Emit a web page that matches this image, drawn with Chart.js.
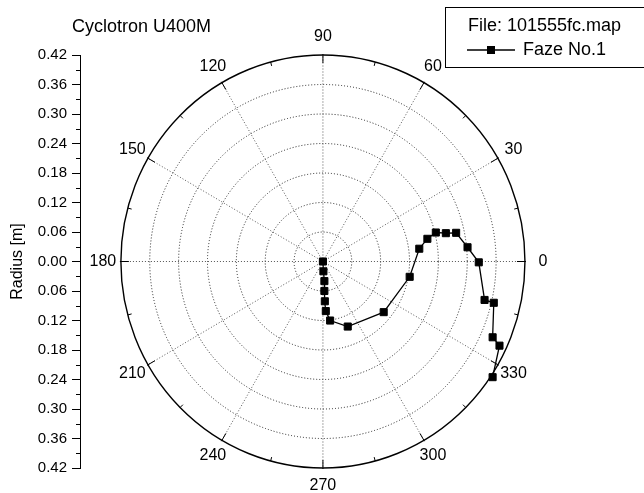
<!DOCTYPE html>
<html>
<head>
<meta charset="utf-8">
<title>Cyclotron U400M</title>
<script src="https://cdn.jsdelivr.net/npm/chart.js@4.4.1/dist/chart.umd.min.js"></script>
<style>
  html, body { margin: 0; padding: 0; background: #fff; }
</style>
</head>
<body>
<canvas id="chart" width="644" height="493"></canvas>
<script>
"use strict";

// Beam path, in the order it is traced: radius [m] and polar angle [deg].
const RADIUS = [0.000, 0.020, 0.040, 0.060, 0.081, 0.101, 0.121, 0.142, 0.163, 0.183, 0.202,
                0.222, 0.242, 0.262, 0.283, 0.302, 0.324, 0.345, 0.365, 0.385, 0.405, 0.424];
const ANGLE = [270.0, 272.9, 274.4, 272.9, 272.8, 273.4, 277.1, 291.3, 320.8, 350.2, 7.4,
               12.0, 14.1, 12.7, 11.9, 5.5, 359.7, 346.9, 346.7, 336.4, 335.0, 326.3];

// Polar grid: rings (the last one is the frame) and angle labels.
const RING_VALUES = [0.06, 0.12, 0.18, 0.24, 0.30, 0.36, 0.42];
const ANGLE_LABELS = [0, 30, 60, 90, 120, 150, 180, 210, 240, 270, 300, 330];

// Left radius axis, read as distance from the centre in both directions.
const RADIUS_TICKS = [-0.42, -0.36, -0.30, -0.24, -0.18, -0.12, -0.06, 0,
                      0.06, 0.12, 0.18, 0.24, 0.30, 0.36, 0.42];

const SERIES_LABEL = "Faze No.1";
const FILE_LABEL = "File: 101555fc.map";
const TITLE = "Cyclotron U400M";

const FONT = "'Liberation Sans', Arial, Helvetica, sans-serif";
const DEG = Math.PI / 180;

// polar -> cartesian, the scatter scales do the rest
const points = RADIUS.map((r, i) => ({
  x: r * Math.cos(ANGLE[i] * DEG),
  y: r * Math.sin(ANGLE[i] * DEG),
}));

const polarGrid = {
  id: "polarGrid",
  beforeDatasetsDraw(chart) {
    const { ctx, scales: { x, y } } = chart;
    const cx = x.getPixelForValue(0);
    const cy = y.getPixelForValue(0);
    const rx = (v) => x.getPixelForValue(v) - cx;
    const ry = (v) => cy - y.getPixelForValue(v);
    const outer = RING_VALUES[RING_VALUES.length - 1];
    const ox = rx(outer), oy = ry(outer);

    ctx.save();
    ctx.strokeStyle = "#222";
    ctx.lineWidth = 1;
    ctx.setLineDash([1, 2]);
    for (const v of RING_VALUES.slice(0, -1)) {
      ctx.beginPath();
      ctx.ellipse(cx, cy, rx(v), ry(v), 0, 0, 2 * Math.PI);
      ctx.stroke();
    }
    ctx.strokeStyle = "#555";
    for (const a of ANGLE_LABELS) {
      ctx.beginPath();
      ctx.moveTo(cx, cy);
      ctx.lineTo(cx + ox * Math.cos(a * DEG), cy - oy * Math.sin(a * DEG));
      ctx.stroke();
    }

    // solid frame ring with inward ticks (major every 30, minor between)
    ctx.setLineDash([]);
    ctx.strokeStyle = "#000";
    ctx.lineWidth = 1.4;
    ctx.beginPath();
    ctx.ellipse(cx, cy, ox, oy, 0, 0, 2 * Math.PI);
    ctx.stroke();
    ctx.lineWidth = 1;
    for (const a of ANGLE_LABELS) {
      for (const [da, len] of [[0, 8], [15, 4]]) {
        const t = (a + da) * DEG;
        const c = Math.cos(t), s = Math.sin(t);
        const out = da ? 0 : 1;
        ctx.beginPath();
        ctx.moveTo(cx + (ox + out) * c, cy - (oy + out) * s);
        ctx.lineTo(cx + (ox - len) * c, cy - (oy - len) * s);
        ctx.stroke();
      }
    }

    ctx.fillStyle = "#000";
    ctx.font = `16px ${FONT}`;
    ctx.textAlign = "center";
    ctx.textBaseline = "middle";
    for (const a of ANGLE_LABELS) {
      const t = a * DEG;
      ctx.fillText(String(a), cx + (ox + 18) * Math.cos(t), cy - (oy + 18) * Math.sin(t));
    }
    ctx.restore();
  },
  afterDraw(chart) {
    const { ctx, scales: { y } } = chart;
    const left = y.right;
    ctx.save();
    // minor ticks on the radius axis, halfway between labelled ones
    ctx.strokeStyle = "#000";
    ctx.lineWidth = 1;
    for (let i = 0; i < RADIUS_TICKS.length - 1; i++) {
      const py = Math.round(y.getPixelForValue((RADIUS_TICKS[i] + RADIUS_TICKS[i + 1]) / 2)) + 0.5;
      ctx.beginPath();
      ctx.moveTo(left - 4, py);
      ctx.lineTo(left, py);
      ctx.stroke();
    }

    ctx.fillStyle = "#000";
    ctx.textBaseline = "middle";
    ctx.textAlign = "left";
    ctx.font = `18px ${FONT}`;
    ctx.fillText(TITLE, 72, 27);

    // legend box, open to the right like the original
    const ds = chart.data.datasets[0];
    ctx.lineWidth = 1;
    ctx.strokeRect(445.5, 7.5, 220, 60);
    ctx.fillText(FILE_LABEL, 468, 26);
    ctx.strokeStyle = ds.borderColor;
    ctx.lineWidth = ds.borderWidth;
    ctx.beginPath();
    ctx.moveTo(467, 50);
    ctx.lineTo(515, 50);
    ctx.stroke();
    ctx.fillStyle = ds.pointBackgroundColor;
    ctx.fillRect(487, 46, 8, 8);
    ctx.fillStyle = "#000";
    ctx.fillText(ds.label, 523, 50);
    ctx.restore();
  },
};

new Chart(document.getElementById("chart"), {
  type: "scatter",
  data: {
    datasets: [{
      label: SERIES_LABEL,
      data: points,
      showLine: true,
      borderColor: "#000",
      borderWidth: 1.3,
      tension: 0,
      pointStyle: "rect",
      pointRadius: 5,
      pointHoverRadius: 5,
      pointBackgroundColor: "#000",
      pointBorderColor: "#000",
      pointBorderWidth: 1,
    }],
  },
  options: {
    responsive: false,
    animation: false,
    events: [],
    layout: { padding: { top: 55, bottom: 25, left: 0, right: 44 } },
    plugins: {
      legend: { display: false },
      title: { display: false },
      tooltip: { enabled: false },
    },
    scales: {
      x: {
        type: "linear",
        display: false,
        min: -0.505,
        max: 0.576,
      },
      y: {
        type: "linear",
        min: -0.42,
        max: 0.42,
        afterFit: (scale) => { scale.width = 80; },
        afterBuildTicks: (scale) => {
          scale.ticks = RADIUS_TICKS.map((v) => ({ value: v }));
        },
        ticks: {
          color: "#000",
          padding: 5,
          font: { family: FONT, size: 15 },
          callback: (value) => Math.abs(value).toFixed(2),
        },
        grid: {
          drawOnChartArea: false,
          drawTicks: true,
          tickLength: 8,
          color: "#000",
        },
        border: { display: true, color: "#000", width: 1 },
        title: {
          display: true,
          text: "Radius [m]",
          color: "#000",
          font: { family: FONT, size: 16 },
          padding: { top: 8, bottom: 0 },
        },
      },
    },
  },
  plugins: [polarGrid],
});
</script>
</body>
</html>
